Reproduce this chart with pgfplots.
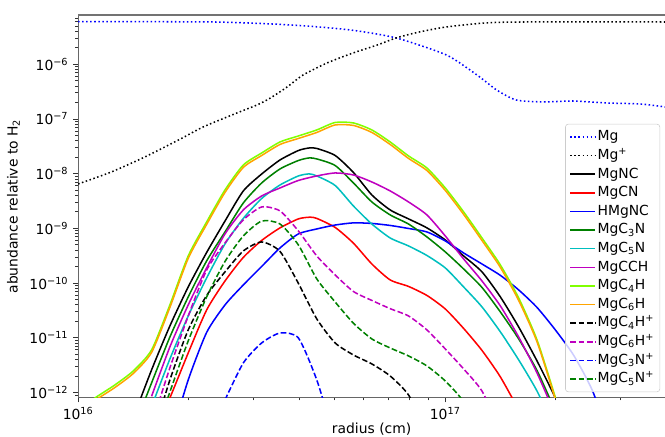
\documentclass[border=0pt]{standalone}
\usepackage{fontspec}
\setmainfont{DejaVu Sans}
\usepackage{pgfplots}
\pgfplotsset{compat=1.18}

\definecolor{mplgreen}{rgb}{0,0.5,0}
\definecolor{mplcyan}{rgb}{0,0.75,0.75}
\definecolor{mplmag}{rgb}{0.75,0,0.75}
\definecolor{mpllime}{rgb}{0.5,1,0}
\definecolor{mplorange}{rgb}{1,0.647,0}

\pgfplotsset{
  mdot/.style={line width=1.1pt, dash pattern=on 1.1pt off 1.8pt},
  mdash/.style={line width=1.1pt, dash pattern=on 4.1pt off 1.8pt},
  msolid/.style={line width=1.1pt},
}

\begin{document}
\begin{tikzpicture}
\begin{loglogaxis}[
    at={(0,0)}, anchor=south west,
    scale only axis,
    width=422.6pt, height=275.5pt,
    xmin=1e16, xmax=3.97e17,
    ymin=8.03e-13, ymax=7.96e-6,
    axis x line*=bottom, axis y line*=left,
    axis line style={black!60, line width=0.8pt},
    clip mode=individual,
    every axis plot/.append style={smooth, tension=0.4},
    xtick={1e16,1e17},
    xticklabels={10\textsuperscript{16},10\textsuperscript{17}},
    minor xtick={2e16,3e16,4e16,5e16,6e16,7e16,8e16,9e16,2e17,3e17},
    ytick={1e-12,1e-11,1e-10,1e-9,1e-8,1e-7,1e-6},
    yticklabels={10\textsuperscript{−12},10\textsuperscript{−11},10\textsuperscript{−10},10\textsuperscript{−9},10\textsuperscript{−8},10\textsuperscript{−7},10\textsuperscript{−6}},
    minor ytick={9e-13,2e-12,3e-12,4e-12,5e-12,6e-12,7e-12,8e-12,9e-12,
        2e-11,3e-11,4e-11,5e-11,6e-11,7e-11,8e-11,9e-11,
        2e-10,3e-10,4e-10,5e-10,6e-10,7e-10,8e-10,9e-10,
        2e-9,3e-9,4e-9,5e-9,6e-9,7e-9,8e-9,9e-9,
        2e-8,3e-8,4e-8,5e-8,6e-8,7e-8,8e-8,9e-8,
        2e-7,3e-7,4e-7,5e-7,6e-7,7e-7,8e-7,9e-7,
        2e-6,3e-6,4e-6,5e-6,6e-6,7e-6},
    tick align=outside,
    major tick length=3.5pt, minor tick length=2pt,
    every tick/.style={black!80, line width=0.6pt},
    tick label style={font=\fontsize{10}{12}\selectfont},
    xlabel={radius (cm)},
    xlabel style={yshift=5pt},
    ylabel={abundance relative to H\textsubscript{2}},
    label style={font=\fontsize{10}{12}\selectfont},
    legend cell align=left,
    legend image code/.code={\draw[#1, sharp plot] (0pt,0pt) -- (18pt,0pt);},
    legend style={at={(1,0)}, anchor=south east, xshift=-3.6pt, yshift=4pt,
        draw=black!20, rounded corners=2pt, fill=white, fill opacity=0.8,
        text opacity=1, draw opacity=1, inner sep=3pt, row sep=0.9pt,
        font=\fontsize{10}{12}\selectfont,
        nodes={inner sep=1pt, text height=8pt, text depth=2.5pt}},
]
% Mg
\addplot[blue, mdot] coordinates {
 (1e16,6.01e-6) (2.35e16,5.93e-6) (3.83e16,5.22e-6) (5.51e16,4.24e-6)
 (7.35e16,3.03e-6) (1.007e17,1.48e-6) (1.22e17,6.37e-7) (1.38e17,3.39e-7)
 (1.56e17,2.22e-7) (1.85e17,2.05e-7) (2.23e17,2.13e-7) (2.76e17,1.96e-7)
 (3.40e17,1.88e-7) (3.97e17,1.66e-7)};
% Mg+
\addplot[black, mdot] coordinates {
 (1e16,6.48e-9) (1.23e16,1.07e-8) (1.52e16,2.02e-8) (1.90e16,4.31e-8)
 (2.19e16,7.14e-8) (2.71e16,1.29e-7) (3.07e16,1.80e-7) (3.34e16,2.42e-7)
 (3.71e16,3.85e-7) (4.10e16,6.37e-7) (4.77e16,1.06e-6) (5.61e16,1.61e-6)
 (6.53e16,2.25e-6) (7.35e16,3.03e-6) (8.49e16,3.89e-6) (1.007e17,4.81e-6)
 (1.285e17,5.69e-6) (1.633e17,5.93e-6) (3.97e17,5.93e-6)};
% MgNC
\addplot[black, msolid] coordinates {
 (1.413e16,3.42e-13) (1.585e16,2.58e-12) (1.778e16,1.64e-11) (1.995e16,8.49e-11)
 (2.239e16,3.62e-10) (2.512e16,1.36e-9) (2.818e16,4.83e-9) (3.162e16,9.86e-9)
 (3.548e16,1.78e-8) (3.981e16,2.65e-8) (4.26e16,2.95e-8) (4.467e16,2.89e-8)
 (5.012e16,2.15e-8) (5.623e16,1.05e-8) (6.310e16,4.08e-9) (7.079e16,2.17e-9)
 (7.943e16,1.49e-9) (8.913e16,1.02e-9) (1e17,6.14e-10) (1.122e17,3.13e-10)
 (1.259e17,1.60e-10) (1.413e17,5.57e-11) (1.585e17,1.57e-11) (1.778e17,3.77e-12)
 (1.995e17,7.93e-13) (2.239e17,1.35e-13)};
% MgCN
\addplot[red, msolid] coordinates {
 (1.585e16,1.35e-13) (1.778e16,7.93e-13) (1.995e16,5.27e-12) (2.239e16,3.22e-11)
 (2.512e16,1.09e-10) (2.818e16,2.94e-10) (3.162e16,6.01e-10) (3.548e16,1.02e-9)
 (3.981e16,1.49e-9) (4.28e16,1.60e-9) (4.467e16,1.52e-9) (5.012e16,1.04e-9)
 (5.623e16,5.35e-10) (6.310e16,2.23e-10) (7.079e16,1.14e-10) (7.943e16,8.67e-11)
 (8.913e16,5.93e-11) (1e17,3.36e-11) (1.122e17,1.48e-11) (1.259e17,5.86e-12)
 (1.413e17,1.92e-12) (1.585e17,4.79e-13)};
% HMgNC
\addplot[blue, msolid] coordinates {
 (1.778e16,1.30e-13) (1.995e16,1.69e-12) (2.239e16,1.25e-11) (2.512e16,3.98e-11)
 (2.818e16,9.23e-11) (3.162e16,2.01e-10) (3.548e16,4.39e-10) (3.981e16,7.91e-10)
 (4.467e16,9.75e-10) (5.012e16,1.15e-9) (5.623e16,1.26e-9) (6.310e16,1.23e-9)
 (7.079e16,1.13e-9) (7.943e16,9.95e-10) (8.913e16,8.59e-10) (1e17,5.89e-10)
 (1.122e17,3.55e-10) (1.259e17,2.23e-10) (1.413e17,1.38e-10) (1.585e17,7.48e-11)
 (1.778e17,3.58e-11) (1.995e17,1.39e-11) (2.239e17,4.74e-12) (2.512e17,1.11e-12)
 (2.818e17,1.35e-13)};
% MgC3N
\addplot[mplgreen, msolid] coordinates {
 (1.413e16,2.06e-13) (1.585e16,1.49e-12) (1.778e16,1.03e-11) (1.995e16,5.57e-11)
 (2.239e16,2.54e-10) (2.512e16,8.59e-10) (2.818e16,2.91e-9) (3.162e16,6.76e-9)
 (3.548e16,1.22e-8) (3.981e16,1.74e-8) (4.26e16,1.94e-8) (4.467e16,1.86e-8)
 (5.012e16,1.41e-8) (5.623e16,6.76e-9) (6.310e16,3.04e-9) (7.079e16,1.76e-9)
 (7.943e16,1.20e-9) (8.913e16,6.97e-10) (1e17,3.71e-10) (1.122e17,1.81e-10)
 (1.259e17,8.30e-11) (1.413e17,2.96e-11) (1.585e17,9.51e-12) (1.778e17,2.52e-12)
 (1.995e17,4.59e-13) (2.239e17,8.89e-14)};
% MgC5N
\addplot[mplcyan, msolid] coordinates {
 (1.585e16,5.5e-13) (1.778e16,4.09e-12) (1.995e16,2.50e-11) (2.239e16,1.24e-10)
 (2.512e16,5.19e-10) (2.818e16,1.52e-9) (3.162e16,3.52e-9) (3.548e16,6.21e-9)
 (3.981e16,9.08e-9) (4.26e16,9.9e-9) (4.467e16,9.08e-9) (5.012e16,6.08e-9)
 (5.623e16,2.56e-9) (6.310e16,1.20e-9) (7.079e16,6.67e-10) (7.943e16,4.77e-10)
 (8.913e16,3.19e-10) (1e17,1.89e-10) (1.122e17,8.49e-11) (1.259e17,3.66e-11)
 (1.413e17,1.28e-11) (1.585e17,3.93e-12) (1.778e17,1.06e-12) (1.995e17,2.06e-13)};
% MgCCH
\addplot[mplmag, msolid] coordinates {
 (1.585e16,8.5e-13) (1.778e16,6.79e-12) (1.995e16,3.98e-11) (2.239e16,1.89e-10)
 (2.512e16,7.91e-10) (2.818e16,2.17e-9) (3.162e16,3.91e-9) (3.548e16,5.48e-9)
 (3.981e16,7.51e-9) (4.467e16,9.08e-9) (5.012e16,1.03e-8) (5.623e16,9.46e-9)
 (6.310e16,7.05e-9) (7.079e16,4.83e-9) (7.943e16,3.04e-9) (8.913e16,1.76e-9)
 (1e17,7.26e-10) (1.122e17,2.76e-10) (1.259e17,1.09e-10) (1.413e17,3.81e-11)
 (1.585e17,1.03e-11) (1.778e17,2.27e-12) (1.995e17,3.87e-13)};
% MgC4H
\addplot[mpllime, msolid] coordinates {
 (1e16,4.79e-13) (1.122e16,8.28e-13) (1.259e16,1.37e-12) (1.413e16,2.47e-12)
 (1.585e16,5.98e-12) (1.778e16,3.98e-11) (1.995e16,3.13e-10) (2.239e16,1.31e-9)
 (2.512e16,5.04e-9) (2.818e16,1.44e-8) (3.162e16,2.39e-8) (3.548e16,3.80e-8)
 (3.981e16,4.89e-8) (4.467e16,6.30e-8) (5.012e16,8.63e-8) (5.623e16,8.45e-8)
 (6.310e16,6.30e-8) (7.079e16,3.80e-8) (7.943e16,2.11e-8) (8.913e16,1.27e-8)
 (1e17,5.48e-9) (1.122e17,2.00e-9) (1.259e17,6.67e-10) (1.413e17,2.14e-10)
 (1.585e17,5.33e-11) (1.778e17,9.12e-12) (1.995e17,8.11e-13) (2.239e17,5.83e-14)};
% MgC6H
\addplot[mplorange, msolid] coordinates {
 (1e16,4.3e-13) (1.122e16,7.45e-13) (1.259e16,1.23e-12) (1.413e16,2.22e-12)
 (1.585e16,5.38e-12) (1.778e16,3.58e-11) (1.995e16,2.82e-10) (2.239e16,1.18e-9)
 (2.512e16,4.54e-9) (2.818e16,1.30e-8) (3.162e16,2.15e-8) (3.548e16,3.42e-8)
 (3.981e16,4.40e-8) (4.467e16,5.67e-8) (5.012e16,7.77e-8) (5.623e16,7.61e-8)
 (6.310e16,5.67e-8) (7.079e16,3.42e-8) (7.943e16,1.90e-8) (8.913e16,1.14e-8)
 (1e17,4.93e-9) (1.122e17,1.80e-9) (1.259e17,6.0e-10) (1.413e17,1.93e-10)
 (1.585e17,4.8e-11) (1.778e17,8.4e-12) (1.995e17,7.5e-13) (2.239e17,5.4e-14)};
% MgC4H+
\addplot[black, mdash] coordinates {
 (1.585e16,1.35e-13) (1.778e16,1.69e-12) (1.995e16,1.39e-11) (2.239e16,5.93e-11)
 (2.512e16,1.60e-10) (2.818e16,3.86e-10) (3.162e16,5.64e-10) (3.548e16,3.78e-10)
 (3.981e16,9.86e-11) (4.467e16,2.21e-11) (5.012e16,8.04e-12) (5.623e16,4.84e-12)
 (6.310e16,3.32e-12) (7.079e16,2.00e-12) (7.943e16,9.00e-13) (8.913e16,2.06e-13)};
% MgC6H+
\addplot[mplmag, mdash] coordinates {
 (1.585e16,2.55e-13) (1.778e16,2.81e-12) (1.995e16,2.50e-11) (2.239e16,1.73e-10)
 (2.512e16,5.41e-10) (2.818e16,1.43e-9) (3.162e16,2.46e-9) (3.548e16,2.08e-9)
 (3.981e16,8.95e-10) (4.467e16,3.13e-10) (5.012e16,1.41e-10) (5.623e16,7.00e-11)
 (6.310e16,4.81e-11) (7.079e16,3.40e-11) (7.943e16,2.50e-11) (8.913e16,1.39e-11)
 (1e17,6.24e-12) (1.122e17,2.69e-12) (1.259e17,1.06e-12) (1.413e17,2.06e-13)};
% MgC3N+
\addplot[blue, mdash] coordinates {
 (2.512e16,7.29e-13) (2.818e16,3.46e-12) (3.162e16,8.04e-12) (3.548e16,1.22e-11)
 (3.981e16,9.91e-12) (4.467e16,1.69e-12) (5.012e16,1.35e-13)};
% MgC5N+
\addplot[mplgreen, mdash] coordinates {
 (1.585e16,1.10e-13) (1.778e16,1.02e-12) (1.995e16,8.73e-12) (2.239e16,5.57e-11)
 (2.512e16,2.48e-10) (2.818e16,7.26e-10) (3.162e16,1.36e-9) (3.548e16,1.20e-9)
 (3.981e16,4.97e-10) (4.467e16,1.19e-10) (5.012e16,4.51e-11) (5.623e16,1.84e-11)
 (6.310e16,9.51e-12) (7.079e16,6.50e-12) (7.943e16,4.65e-12) (8.913e16,3.05e-12)
 (1e17,1.62e-12) (1.122e17,6.70e-13) (1.259e17,1.35e-13)};
\legend{Mg, Mg\textsuperscript{+}, MgNC, MgCN, HMgNC, MgC\textsubscript{3}N,
  MgC\textsubscript{5}N, MgCCH, MgC\textsubscript{4}H, MgC\textsubscript{6}H,
  MgC\textsubscript{4}H\textsuperscript{+}, MgC\textsubscript{6}H\textsuperscript{+},
  MgC\textsubscript{3}N\textsuperscript{+}, MgC\textsubscript{5}N\textsuperscript{+}}
\draw[black!55, line width=1.2pt] (rel axis cs:0,1) -- (rel axis cs:1,1);
\end{loglogaxis}
\pgfresetboundingbox
\path (-56.2pt,-28.3pt) rectangle (422.6pt,286.3pt);
\end{tikzpicture}
\end{document}
